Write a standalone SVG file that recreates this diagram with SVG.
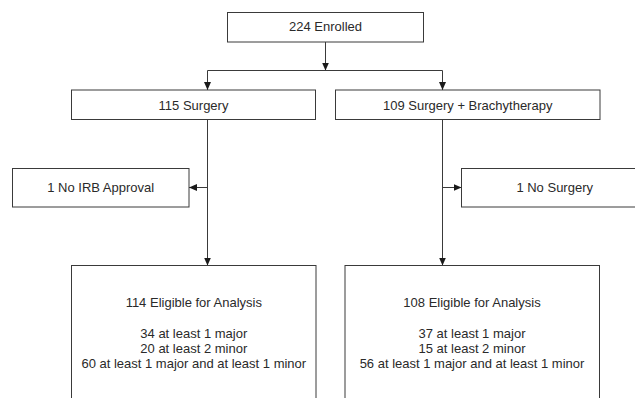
<svg xmlns="http://www.w3.org/2000/svg" width="635" height="398" viewBox="0 0 635 398">
  <style>
    .box { fill: #ffffff; stroke: #3a3a3a; stroke-width: 1; }
    .lbl { font-family: "Liberation Sans", Arial, sans-serif; font-size: 13px; fill: #2a2a2a; text-anchor: middle; }
    .conn { fill: none; stroke: #3a3a3a; stroke-width: 1; }
  </style>
  <defs>
    <marker id="arr" viewBox="0 0 8 7" refX="8" refY="3.5" markerWidth="8" markerHeight="7" markerUnits="userSpaceOnUse" orient="auto">
      <path d="M0,0 L8,3.5 L0,7 Z" fill="#1a1a1a"/>
    </marker>
  </defs>
  <rect width="635" height="398" fill="#ffffff"/>

  <g id="connectors">
    <path class="conn" d="M325.5,42 V70.5" marker-end="url(#arr)"/>
    <path class="conn" d="M207.5,70.5 H442.5"/>
    <path class="conn" d="M207.5,70.5 V90" marker-end="url(#arr)"/>
    <path class="conn" d="M442.5,70.5 V90" marker-end="url(#arr)"/>
    <path class="conn" d="M207.5,119.5 V265.5" marker-end="url(#arr)"/>
    <path class="conn" d="M207.5,187.5 H189" marker-end="url(#arr)"/>
    <path class="conn" d="M442.5,119.5 V265.5" marker-end="url(#arr)"/>
    <path class="conn" d="M442.5,187.5 H461.5" marker-end="url(#arr)"/>
  </g>

  <g id="enrolled">
    <rect class="box" x="227.5" y="12.5" width="196" height="29.5"/>
    <text class="lbl" x="325.5" y="31">224 Enrolled</text>
  </g>
  <g id="surgery">
    <rect class="box" x="71.5" y="90" width="244" height="29.5"/>
    <text class="lbl" x="193.5" y="109.5">115 Surgery</text>
  </g>
  <g id="surgery-brachy">
    <rect class="box" x="335.5" y="90" width="264.5" height="29.5"/>
    <text class="lbl" x="467.7" y="109.5">109 Surgery + Brachytherapy</text>
  </g>
  <g id="no-irb">
    <rect class="box" x="12.5" y="168.5" width="176.5" height="38.5"/>
    <text class="lbl" x="100.7" y="192">1 No IRB Approval</text>
  </g>
  <g id="no-surgery">
    <rect class="box" x="461.5" y="168.5" width="186" height="38.5"/>
    <text class="lbl" x="554.7" y="192">1 No Surgery</text>
  </g>
  <g id="eligible-surgery">
    <rect class="box" x="71.5" y="265.5" width="244.5" height="150"/>
    <text class="lbl" x="193.8" y="307.3">114 Eligible for Analysis</text>
    <text class="lbl" x="193.8" y="337.6">34 at least 1 major</text>
    <text class="lbl" x="193.8" y="352.8">20 at least 2 minor</text>
    <text class="lbl" x="193.8" y="368.1">60 at least 1 major and at least 1 minor</text>
  </g>
  <g id="eligible-brachy">
    <rect class="box" x="345" y="265.5" width="254.5" height="150"/>
    <text class="lbl" x="472" y="307.3">108 Eligible for Analysis</text>
    <text class="lbl" x="472" y="337.6">37 at least 1 major</text>
    <text class="lbl" x="472" y="352.8">15 at least 2 minor</text>
    <text class="lbl" x="472" y="368.1">56 at least 1 major and at least 1 minor</text>
  </g>
</svg>
